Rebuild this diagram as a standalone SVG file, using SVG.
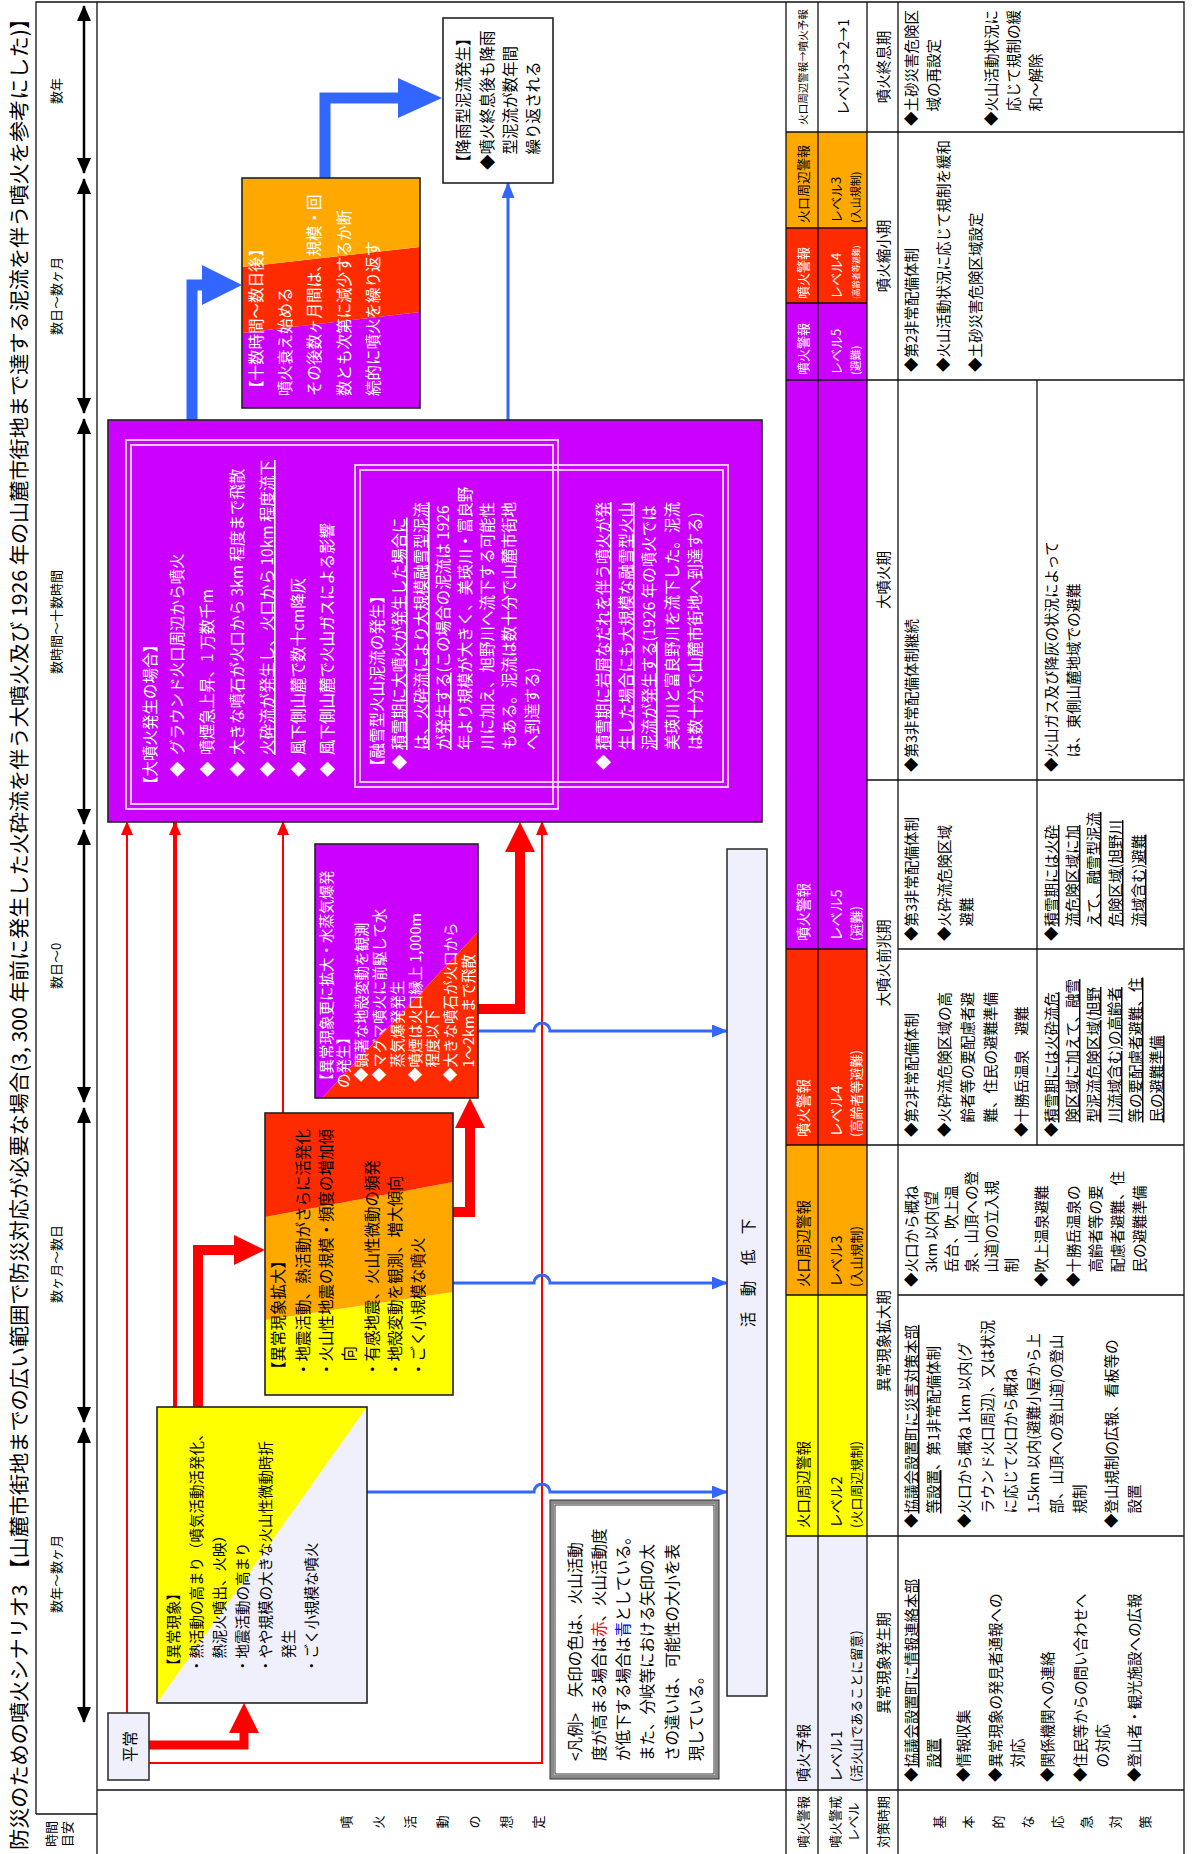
<svg xmlns="http://www.w3.org/2000/svg" width="1192" height="1854" viewBox="0 0 1192 1854">
<defs>
<style>
text{font-family:"Noto Sans CJK JP","Noto Sans CJK SC","Noto Sans",sans-serif;dominant-baseline:central;fill:#000}
.w{fill:#fff}
.s11{font-size:11px}
.s12{font-size:12.5px}
.s13{font-size:13px}
.s14{font-size:14.5px}
.s15{font-size:15.5px}
.c{text-anchor:middle}
.u{text-decoration:underline}
.ln{stroke:#111;stroke-width:1.3;fill:none}
.bx{fill:none;stroke:#222;stroke-width:1.6}
.rl{stroke:#f00;fill:none}
.bl{stroke:#36f;fill:none}
.dl{fill:none;stroke:#f4dcff;stroke-width:1.8}
.ta{stroke:#000;stroke-width:2.5;fill:none;marker-start:url(#tk);marker-end:url(#tk)}
</style>
<marker id="tk" markerUnits="userSpaceOnUse" markerWidth="16" markerHeight="14" refX="15" refY="7" orient="auto-start-reverse"><path d="M0,0L16,7L0,14z" fill="#000"/></marker>
<marker id="ar" markerUnits="userSpaceOnUse" markerWidth="14" markerHeight="12" refX="13" refY="6" orient="auto"><path d="M0,0L14,6L0,12z" fill="#f00"/></marker>
<marker id="ab" markerUnits="userSpaceOnUse" markerWidth="16" markerHeight="13" refX="15" refY="6.5" orient="auto"><path d="M0,0L16,6.5L0,13z" fill="#36f"/></marker>
</defs>
<rect width="1192" height="1854" fill="#fff"/>
<g transform="translate(0,1854) rotate(-90)">

<text x="4" y="18" style="font-size:20.5px" textLength="1842" lengthAdjust="spacingAndGlyphs">防災のための噴火シナリオ3 【山麓市街地までの広い範囲で防災対応が必要な場合(3, 300 年前に発生した火砕流を伴う大噴火及び 1926 年の山麓市街地まで達する泥流を伴う噴火を参考にした)】</text>

<g id="table">
<rect x="64" y="786" width="254" height="81" fill="#f0f0fc"/>
<rect x="318" y="786" width="241" height="81" fill="#ffff00"/>
<rect x="559" y="786" width="150" height="81" fill="#ffa800"/>
<rect x="709" y="786" width="196" height="81" fill="#ff2b00"/>
<rect x="905" y="786" width="569" height="81" fill="#cc00ff"/>
<rect x="1474" y="786" width="77" height="81" fill="#cc00ff"/>
<rect x="1551" y="786" width="75" height="81" fill="#ff2b00"/>
<rect x="1626" y="786" width="96" height="81" fill="#ffa800"/>
<path class="ln" d="M40,36H1852V1184H0M40,36V97M0,97H1852M64,97V1184M0,786H1852M0,818H1852M0,867H1852M0,898H1852M318,786V1184M709,786V1184M1474,786V1184M1722,786V1184M559,786V867M559,898V1184M905,786V867M905,898V1184M1074,867V1184M1551,786V867M1626,786V867M709,1037H1474"/>

<g class="s13">
<text x="20" y="50" class="c">時間</text>
<text x="20" y="66" class="c">目安</text>
<text x="32" y="345" class="c">噴</text><text x="32" y="377" class="c">火</text><text x="32" y="409" class="c">活</text><text x="32" y="441" class="c">動</text><text x="32" y="473" class="c">の</text><text x="32" y="505" class="c">想</text><text x="32" y="537" class="c">定</text>
<text x="32" y="802" class="c">噴火警報</text>
<text x="32" y="834" class="c">噴火警戒</text>
<text x="32" y="852" class="c">レベル</text>
<text x="32" y="882" class="c">対策時期</text>
<text x="32" y="938" class="c">基</text><text x="32" y="967" class="c">本</text><text x="32" y="997" class="c">的</text><text x="32" y="1026" class="c">な</text><text x="32" y="1056" class="c">応</text><text x="32" y="1085" class="c">急</text><text x="32" y="1114" class="c">対</text><text x="32" y="1144" class="c">策</text>
</g>

<g class="s14">
<text x="72" y="802">噴火予報</text>
<text x="326" y="802">火口周辺警報</text>
<text x="567" y="802">火口周辺警報</text>
<text x="717" y="802" class="w">噴火警報</text>
<text x="913" y="802" class="w">噴火警報</text>
<text x="72" y="835">レベル1</text>
<text x="326" y="835">レベル2</text>
<text x="567" y="835">レベル3</text>
<text x="717" y="835" class="w">レベル4</text>
<text x="913" y="835" class="w">レベル5</text>
<text x="1787" y="842" class="c">レベル3→2→1</text>
</g>
<g class="s13">
<text x="72" y="855">(活火山であることに留意)</text>
<text x="326" y="855">(火口周辺規制)</text>
<text x="567" y="855">(入山規制)</text>
<text x="717" y="855" class="w">(高齢者等避難)</text>
<text x="913" y="855" class="w">(避難)</text>
<text x="1479" y="802" class="w">噴火警報</text>
<text x="1555" y="802" class="w">噴火警報</text>
<text x="1631" y="802">火口周辺警報</text>
<text x="1479" y="835" class="w">レベル5</text>
<text x="1555" y="835" class="w">レベル4</text>
<text x="1631" y="835">レベル3</text>
</g>
<text x="1479" y="855" class="w s11">(避難)</text>
<text x="1555" y="855" class="w" style="font-size:8px">(高齢者等避難)</text>
<text x="1631" y="855" class="s11">(入山規制)</text>
<text x="1787" y="802" class="c" style="font-size:10.5px">火口周辺警報→噴火予報</text>

<g class="s14 c">
<text x="191" y="882">異常現象発生期</text>
<text x="513" y="882">異常現象拡大期</text>
<text x="891" y="882">大噴火前兆期</text>
<text x="1274" y="882">大噴火期</text>
<text x="1598" y="882">噴火縮小期</text>
<text x="1787" y="882">噴火終息期</text>
</g>

<g class="s14">
<text x="72" y="910">◆<tspan class="u">協議会設置町に情報連絡本部</tspan></text>
<text x="72" y="932">　<tspan class="u">設置</tspan></text>
<text x="72" y="962">◆情報収集</text>
<text x="72" y="994">◆異常現象の発見者通報への</text>
<text x="72" y="1016">　対応</text>
<text x="72" y="1046">◆関係機関への連絡</text>
<text x="72" y="1079">◆住民等からの問い合わせへ</text>
<text x="72" y="1101">　の対応</text>
<text x="72" y="1133">◆登山者・観光施設への広報</text>

<text x="326" y="910">◆<tspan class="u">協議会設置町に災害対策本部</tspan></text>
<text x="326" y="932">　<tspan class="u">等設置</tspan>、第1非常配備体制</text>
<text x="326" y="963">◆火口から概ね 1km 以内(グ</text>
<text x="326" y="986">　ラウンド火口周辺)、又は状況</text>
<text x="326" y="1009">　に応じて火口から概ね</text>
<text x="326" y="1032">　1.5km 以内(避難小屋から上</text>
<text x="326" y="1055">　部、山頂への登山道)の登山</text>
<text x="326" y="1078">　規制</text>
<text x="326" y="1110">◆登山規制の広報、看板等の</text>
<text x="326" y="1133">　設置</text>

<text x="567" y="910">◆火口から概ね</text>
<text x="567" y="930">　3km 以内(望</text>
<text x="567" y="950">　岳台、吹上温</text>
<text x="567" y="970">　泉、山頂への登</text>
<text x="567" y="990">　山道)の立入規</text>
<text x="567" y="1010">　制</text>
<text x="567" y="1040">◆吹上温泉避難</text>
<text x="567" y="1072">◆十勝岳温泉の</text>
<text x="567" y="1094">　高齢者等の要</text>
<text x="567" y="1116">　配慮者避難、住</text>
<text x="567" y="1138">　民の避難準備</text>

<text x="717" y="910">◆第2非常配備体制</text>
<text x="717" y="943">◆火砕流危険区域の高</text>
<text x="717" y="966">　齢者等の要配慮者避</text>
<text x="717" y="989">　難、住民の避難準備</text>
<text x="717" y="1020">◆十勝岳温泉　避難</text>
<text x="717" y="1050">◆<tspan class="u">積雪期には火砕流危</tspan></text>
<text x="717" y="1071">　<tspan class="u">険区域に加えて、融雪</tspan></text>
<text x="717" y="1092">　<tspan class="u">型泥流危険区域(旭野</tspan></text>
<text x="717" y="1113">　<tspan class="u">川流域含む)の高齢者</tspan></text>
<text x="717" y="1134">　<tspan class="u">等の要配慮者避難、住</tspan></text>
<text x="717" y="1155">　<tspan class="u">民の避難準備</tspan></text>

<text x="913" y="910">◆第3非常配備体制</text>
<text x="913" y="943">◆火砕流危険区域</text>
<text x="913" y="965">　避難</text>
<text x="913" y="1050">◆<tspan class="u">積雪期には火砕</tspan></text>
<text x="913" y="1071">　<tspan class="u">流危険区域に加</tspan></text>
<text x="913" y="1092">　<tspan class="u">えて、融雪型泥流</tspan></text>
<text x="913" y="1114">　<tspan class="u">危険区域(旭野川</tspan></text>
<text x="913" y="1137">　<tspan class="u">流域含む)避難</tspan></text>

<text x="1082" y="910">◆第3非常配備体制継続</text>
<text x="1082" y="1050">◆火山ガス及び降灰の状況によって</text>
<text x="1082" y="1072">　は、東側山麓地域での避難</text>

<text x="1482" y="910">◆第2非常配備体制</text>
<text x="1482" y="942">◆火山活動状況に応じて規制を緩和</text>
<text x="1482" y="974">◆土砂災害危険区域設定</text>

<text x="1728" y="910">◆土砂災害危険区</text>
<text x="1728" y="932">　域の再設定</text>
<text x="1728" y="990">◆火山活動状況に</text>
<text x="1728" y="1012">　応じて規制の緩</text>
<text x="1728" y="1034">　和～解除</text>
</g>
</g>

<g id="time-axis">
<g class="s13 c" style="fill:#222">
<text x="280" y="55">数年～数ヶ月</text>
<text x="590" y="55">数ヶ月～数日</text>
<text x="888" y="55">数日～0</text>
<text x="1232" y="55">数時間～十数時間</text>
<text x="1558" y="55">数日～数ヶ月</text>
<text x="1763" y="55">数年</text>
</g>
<path class="ta" d="M132,84H426"/>
<path class="ta" d="M432,84H746"/>
<path class="ta" d="M752,84H1024"/>
<path class="ta" d="M1030,84H1435"/>
<path class="ta" d="M1441,84H1675"/>
<path class="ta" d="M1681,84H1848"/>
</g>

<g id="connectors">
<path class="rl" stroke-width="2" d="M141,127H1032" marker-end="url(#ar)"/>
<path class="rl" stroke-width="2" d="M91,149V542H1032" marker-end="url(#ar)"/>
<path class="rl" stroke-width="4" d="M447,175H1032" marker-end="url(#ar)"/>
<path class="rl" stroke-width="2" d="M741,283H1032" marker-end="url(#ar)"/>
<path class="rl" stroke-width="9" d="M109,149V244H122"/>
<polygon points="121,229 151,244 121,259" fill="#f00"/>
<path class="rl" stroke-width="10" d="M447,198H604V234"/>
<polygon points="589,234 604,265 619,234" fill="#f00"/>
<path class="rl" stroke-width="10" d="M642,453V470H726"/>
<polygon points="726,455 756,470 726,485" fill="#f00"/>
<path class="rl" stroke-width="10" d="M845,478V520H1002"/>
<polygon points="1002,505 1032,520 1002,535" fill="#f00"/>
<path class="bl" stroke-width="3" d="M362,367V534A8,8 0 0 1 362,550V727" marker-end="url(#ab)"/>
<path class="bl" stroke-width="3" d="M571,453V534A8,8 0 0 1 571,550V727" marker-end="url(#ab)"/>
<path class="bl" stroke-width="3" d="M823,478V534A8,8 0 0 1 823,550V727" marker-end="url(#ab)"/>
<path class="bl" stroke-width="3" d="M1434,508H1671" marker-end="url(#ab)"/>
<path class="bl" stroke-width="11" d="M1434,192H1569V203"/>
<polygon points="1549,202 1569,242 1589,202" fill="#36f"/>
<path class="bl" stroke-width="11" d="M1676,325H1756V399"/>
<polygon points="1736,398 1756,442 1776,398" fill="#36f"/>
</g>

<g id="n-heijo">
<rect x="74" y="108" width="67" height="41" fill="#f0f0fc" stroke="#333" stroke-width="1.6"/>
<text x="107.5" y="128.5" class="s15 c">平常</text>
</g>

<g id="n-ijo">
<polygon points="151,157 447,157 447,367" fill="#ffff00"/>
<polygon points="151,157 447,367 151,367" fill="#f0f0fc"/>
<rect class="bx" x="151" y="157" width="296" height="210"/>
<g class="s14">
<text x="181" y="172">【異常現象】</text>
<text x="181" y="195">・熱活動の高まり（噴気活動活発化、</text>
<text x="181" y="218">　熱泥火噴出、火映）</text>
<text x="181" y="241">・地震活動の高まり</text>
<text x="181" y="264">・やや規模の大きな火山性微動時折</text>
<text x="181" y="287">　発生</text>
<text x="181" y="310">・ごく小規模な噴火</text>
</g>
</g>

<g id="n-kakudai">
<polygon points="459,265 534,265 562,453 459,453" fill="#ffff00"/>
<polygon points="534,265 637,265 672,453 562,453" fill="#ffa800"/>
<polygon points="637,265 741,265 741,453 672,453" fill="#ff2b00"/>
<rect class="bx" x="459" y="265" width="282" height="188"/>
<g class="s15">
<text x="477" y="277">【異常現象拡大】</text>
<text x="477" y="302">・地震活動、熱活動がさらに活発化</text>
<text x="477" y="325">・火山性地震の規模・頻度の増加傾</text>
<text x="477" y="348">　向</text>
<text x="477" y="371">・有感地震、火山性微動の頻発</text>
<text x="477" y="394">・地殻変動を観測、増大傾向</text>
<text x="477" y="417">・ごく小規模な噴火</text>
</g>
</g>

<g id="n-suijoki">
<polygon points="756,315 1010,315 1010,478 922,478 756,322" fill="#cc00ff"/>
<polygon points="756,322 922,478 756,478" fill="#ff2b00"/>
<rect class="bx" x="756" y="315" width="254" height="163"/>
<g class="s14">
<text x="766" y="325" class="w">【異常現象更に拡大・水蒸気爆発</text>
<text x="766" y="342.8" class="w">の発生】</text>
<text x="772" y="360.6" class="w">◆顕著な地殻変動を観測</text>
<text x="772" y="378.4" class="w">◆マグマ噴火に前駆して水</text>
<text x="772" y="396.2" class="w">　蒸気爆発発生</text>
<text x="772" y="414" class="w">◆噴煙は火口縁上 1,000m</text>
<text x="772" y="431.8" class="w">　程度以下</text>
<text x="772" y="449.6" class="w">◆大きな噴石が火口から</text>
<text x="772" y="467.4" class="w">　1～2km まで飛散</text>
</g>
</g>

<g id="n-daifunka">
<rect x="1032" y="108" width="402" height="654" fill="#cc00ff" stroke="#222" stroke-width="1.6"/>
<rect class="dl" x="1045" y="126" width="369" height="432"/>
<rect class="dl" x="1050" y="131" width="359" height="422"/>
<rect class="dl" x="1067" y="355" width="322" height="373"/>
<rect class="dl" x="1072" y="360" width="312" height="363"/>
<g class="s15">
<text x="1062" y="149" class="w">【大噴火発生の場合】</text>
<text x="1077" y="176" class="w">◆</text><text x="1099" y="176" class="w">グラウンド火口周辺から噴火</text>
<text x="1077" y="206" class="w">◆</text><text x="1099" y="206" class="w">噴煙急上昇、1 万数千m</text>
<text x="1077" y="236" class="w">◆</text><text x="1099" y="236" class="w">大きな噴石が火口から 3km 程度まで飛散</text>
<text x="1077" y="266" class="w">◆</text><text x="1099" y="266" class="w u">火砕流が発生し、火口から 10km 程度流下</text>
<text x="1077" y="297" class="w">◆</text><text x="1099" y="297" class="w">風下側山麓で数十cm降灰</text>
<text x="1077" y="326" class="w">◆</text><text x="1099" y="326" class="w">風下側山麓で火山ガスによる影響</text>
<text x="1080" y="376" class="w">【融雪型火山泥流の発生】</text>
<text x="1084" y="398" class="w">◆</text>
<text x="1104" y="398" class="w u">積雪期に大噴火が発生した場合に</text>
<text x="1104" y="420" class="w u">は、火砕流により大規模融雪型泥流</text>
<text x="1104" y="442" class="w"><tspan class="u">が発生する</tspan>(この場合の泥流は 1926</text>
<text x="1104" y="464" class="w">年より規模が大きく、美瑛川・富良野</text>
<text x="1104" y="486" class="w">川に加え、旭野川へ流下する可能性</text>
<text x="1104" y="508" class="w">もある。泥流は数十分で山麓市街地</text>
<text x="1104" y="531" class="w">へ到達する)</text>
<text x="1084" y="602" class="w">◆</text>
<text x="1104" y="602" class="w u">積雪期に岩屑なだれを伴う噴火が発</text>
<text x="1104" y="625" class="w u">生した場合にも大規模な融雪型火山</text>
<text x="1104" y="648" class="w"><tspan class="u">泥流が発生する</tspan>(1926 年の噴火では</text>
<text x="1104" y="671" class="w">美瑛川と富良野川を流下した。泥流</text>
<text x="1104" y="694" class="w">は数十分で山麓市街地へ到達する)</text>
</g>
</g>

<g id="n-shukusho">
<polygon points="1446,242 1521,242 1542,420 1446,420" fill="#cc00ff"/>
<polygon points="1521,242 1587,242 1607,420 1542,420" fill="#ff2b00"/>
<polygon points="1587,242 1676,242 1676,420 1607,420" fill="#ffa800"/>
<rect class="bx" x="1446" y="242" width="230" height="178"/>
<g class="s15">
<text x="1458" y="255" class="w">【十数時間～数日後】</text>
<text x="1458" y="284" class="w">噴火衰え始める</text>
<text x="1458" y="313" class="w">その後数ヶ月間は、規模・回</text>
<text x="1458" y="343" class="w">数とも次第に減少するか断</text>
<text x="1458" y="372" class="w">続的に噴火を繰り返す</text>
</g>
</g>

<g id="n-deiryu">
<rect x="1671" y="443" width="165" height="110" fill="#fff" stroke="#222" stroke-width="1.6"/>
<g class="s15">
<text x="1684" y="462">【降雨型泥流発生】</text>
<text x="1684" y="486">◆噴火終息後も降雨</text>
<text x="1684" y="509">　型泥流が数年間</text>
<text x="1684" y="532">　繰り返される</text>
</g>
</g>

<g id="n-legend">
<rect x="77" y="552" width="275" height="165" fill="#fff" stroke="#8a8a8a" stroke-width="4"/>
<rect x="75" y="550" width="279" height="169" fill="none" stroke="#333" stroke-width="1"/>
<rect x="80" y="555" width="269" height="159" fill="none" stroke="#333" stroke-width="1"/>
<g class="s15">
<text x="93" y="574">&lt;凡例&gt;　矢印の色は、火山活動</text>
<text x="93" y="598">度が高まる場合は<tspan fill="#f00">赤</tspan>、火山活動度</text>
<text x="93" y="622">が低下する場合は<tspan fill="#00f">青</tspan>としている。</text>
<text x="93" y="646">また、分岐等における矢印の太</text>
<text x="93" y="671">さの違いは、可能性の大小を表</text>
<text x="93" y="695">現している。</text>
</g>
</g>

<g id="n-teika">
<rect x="158" y="727" width="847" height="40" fill="#f0f0fc" stroke="#333" stroke-width="1.6"/>
<text x="581" y="747" class="s15 c">活　動　低　下</text>
</g>

</g>
</svg>
